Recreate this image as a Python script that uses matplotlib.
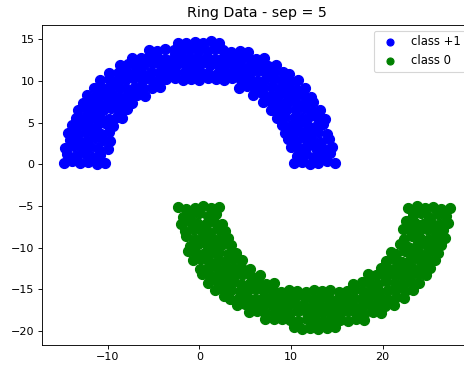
import matplotlib
matplotlib.use("Agg")
import matplotlib.pyplot as plt

title = "Ring Data - sep = 5"
labels = ["class +1", "class 0"]
colors = ["blue", "green"]

# class +1 (upper ring) points
pos_x = [
    -14.8, -13.9, -13.0, -12.1, -11.2, -10.3, 10.3, 11.2, 12.1, 13.0, 13.9, 14.8,
    -14.4, -13.5, -12.6, -11.7, -10.8, 10.7, 11.6, 12.5, 13.4, 14.3,
    -14.6, -13.7, -12.8, -11.9, -11.0, -10.0, 10.0, 10.9, 11.8, 12.7, 13.6, 14.5,
    -14.1, -13.2, -12.3, -11.4, -10.5, -9.7, 9.7, 10.5, 11.4, 12.3, 13.2, 14.1,
    -14.3, -13.4, -12.5, -11.6, -10.7, -9.8, 9.4, 10.3, 11.2, 12.1, 13.0, 13.9,
    -13.9, -13.0, -12.1, -11.2, -10.3, -9.4, 9.0, 9.9, 10.8, 11.7, 12.6, 13.5,
    -13.5, -12.6, -11.7, -10.8, -9.9, -9.0, -8.4, 8.5, 9.4, 10.3, 11.2, 12.1, 13.0, 13.7,
    -13.2, -12.3, -11.4, -10.5, -9.6, -8.7, -7.9, 7.8, 8.7, 9.6, 10.5, 11.4, 12.3, 13.2,
    -12.7, -11.8, -10.9, -10.0, -9.1, -8.2, -7.3, 7.0, 7.9, 8.8, 9.7, 10.6, 11.5, 12.4,
    -12.2, -11.3, -10.4, -9.5, -8.6, -7.7, -6.8, -5.9, 5.9, 6.8, 7.7, 8.6, 9.5, 10.4, 11.3, 12.2,
    -11.5, -10.6, -9.7, -8.8, -7.9, -7.0, -6.1, -5.2, -4.3, 4.3, 5.2, 6.1, 7.0, 7.9, 8.8, 9.7, 10.6, 11.5,
    -10.8, -9.9, -9.0, -8.1, -7.2, -6.3, -5.4, -4.5, -3.6, -2.7, -1.8, -0.9, 0.0,
    0.9, 1.8, 2.7, 3.6, 4.5, 5.4, 6.3, 7.2, 8.1, 9.0, 9.9, 10.8,
    -9.8, -8.9, -8.0, -7.1, -6.2, -5.3, -4.4, -3.5, -2.6, -1.7, -0.8, 0.1,
    1.0, 1.9, 2.8, 3.7, 4.6, 5.5, 6.4, 7.3, 8.2, 9.1, 9.8,
    -8.7, -7.8, -6.9, -6.0, -5.1, -4.2, -3.3, -2.4, -1.5, -0.6,
    0.3, 1.2, 2.1, 3.0, 3.9, 4.8, 5.7, 6.6, 7.5, 8.4,
    -7.3, -6.4, -5.5, -4.6, -3.7, -2.8, -1.9, -1.0, -0.1, 0.8, 1.7, 2.6, 3.5, 4.4, 5.3, 6.2, 7.1,
    -5.5, -4.6, -3.7, -2.8, -1.9, -1.0, -0.1, 0.8, 1.7, 2.6, 3.5, 4.4, 5.3,
    -2.3, -1.4, -0.5, 0.4, 1.3, 2.2,
]
pos_y = [
    0.2, 0.4, 0.1, 0.3, 0.0, 0.2, 0.1, 0.3, 0.0, 0.2, 0.4, 0.1,
    1.2, 1.0, 1.3, 0.9, 1.1, 1.0, 1.2, 0.9, 1.1, 1.3,
    2.0, 2.2, 1.9, 2.1, 2.0, 1.8, 2.1, 1.9, 2.2, 2.0, 1.8, 2.1,
    2.9, 3.0, 2.8, 3.1, 2.9, 2.8, 3.0, 2.8, 3.1, 2.9, 2.7, 3.0,
    3.8, 3.7, 3.9, 3.8, 3.6, 3.9, 3.8, 3.9, 3.7, 3.8, 3.9, 3.6,
    4.7, 4.8, 4.6, 4.7, 4.9, 4.6, 4.7, 4.6, 4.8, 4.7, 4.5, 4.8,
    5.6, 5.5, 5.7, 5.6, 5.4, 5.7, 5.5, 5.6, 5.7, 5.5, 5.6, 5.8, 5.5, 5.4,
    6.5, 6.6, 6.4, 6.5, 6.7, 6.4, 6.6, 6.5, 6.4, 6.6, 6.5, 6.7, 6.4, 6.5,
    7.4, 7.3, 7.5, 7.4, 7.2, 7.5, 7.4, 7.5, 7.3, 7.4, 7.6, 7.3, 7.4, 7.5,
    8.3, 8.2, 8.4, 8.3, 8.1, 8.4, 8.3, 8.2, 8.3, 8.5, 8.2, 8.3, 8.4, 8.2, 8.3, 8.1,
    9.2, 9.1, 9.3, 9.2, 9.0, 9.3, 9.2, 9.1, 9.3, 9.2, 9.4, 9.1, 9.2, 9.3, 9.1, 9.2, 9.0, 9.2,
    10.1, 10.2, 10.0, 10.1, 10.3, 10.1, 10.2, 10.0, 10.2, 10.3, 10.1, 10.2, 10.1,
    10.3, 10.2, 10.1, 10.3, 10.1, 10.2, 10.0, 10.1, 10.2, 10.1, 10.0, 10.1,
    11.0, 10.9, 11.1, 11.0, 10.8, 11.1, 11.0, 10.9, 11.2, 11.0, 10.9, 11.1,
    11.0, 10.8, 11.0, 11.1, 10.9, 11.0, 11.2, 10.9, 11.0, 11.1, 10.8,
    11.9, 12.0, 11.8, 11.9, 12.1, 11.8, 11.9, 12.0, 11.8, 11.9,
    12.1, 11.9, 11.8, 12.0, 11.9, 11.7, 12.0, 11.9, 11.8, 11.9,
    12.8, 12.7, 12.9, 12.8, 12.6, 12.9, 12.8, 12.7, 12.9, 12.8, 12.6, 12.8, 12.9, 12.7, 12.8, 12.6, 12.7,
    13.7, 13.6, 13.8, 13.7, 13.5, 13.8, 13.7, 13.6, 13.8, 13.7, 13.5, 13.6, 13.5,
    14.5, 14.6, 14.7, 14.6, 14.8, 14.5,
]

# class 0 (lower ring) points
neg_x = [
    27.3, 26.4, 25.5, 24.6, 23.7, 22.8, 2.2, 1.3, 0.4, -0.5, -1.4, -2.3,
    26.9, 26.0, 25.1, 24.2, 23.3, 1.8, 0.9, 0.0, -0.9, -1.8,
    27.1, 26.2, 25.3, 24.4, 23.5, 22.5, 2.5, 1.6, 0.7, -0.2, -1.1, -2.0,
    26.6, 25.7, 24.8, 23.9, 23.0, 22.2, 2.8, 2.0, 1.1, 0.2, -0.7, -1.6,
    26.8, 25.9, 25.0, 24.1, 23.2, 22.3, 3.1, 2.2, 1.3, 0.4, -0.5, -1.4,
    26.4, 25.5, 24.6, 23.7, 22.8, 21.9, 3.5, 2.6, 1.7, 0.8, -0.1, -1.0,
    26.0, 25.1, 24.2, 23.3, 22.4, 21.5, 20.9, 4.0, 3.1, 2.2, 1.3, 0.4, -0.5, -1.2,
    25.7, 24.8, 23.9, 23.0, 22.1, 21.2, 20.4, 4.7, 3.8, 2.9, 2.0, 1.1, 0.2, -0.7,
    25.2, 24.3, 23.4, 22.5, 21.6, 20.7, 19.8, 5.5, 4.6, 3.7, 2.8, 1.9, 1.0, 0.1,
    24.7, 23.8, 22.9, 22.0, 21.1, 20.2, 19.3, 18.4, 6.6, 5.7, 4.8, 3.9, 3.0, 2.1, 1.2, 0.3,
    24.0, 23.1, 22.2, 21.3, 20.4, 19.5, 18.6, 17.7, 16.8, 8.2, 7.3, 6.4, 5.5, 4.6, 3.7, 2.8, 1.9, 1.0,
    23.3, 22.4, 21.5, 20.6, 19.7, 18.8, 17.9, 17.0, 16.1, 15.2, 14.3, 13.4, 12.5,
    11.6, 10.7, 9.8, 8.9, 8.0, 7.1, 6.2, 5.3, 4.4, 3.5, 2.6, 1.7,
    22.3, 21.4, 20.5, 19.6, 18.7, 17.8, 16.9, 16.0, 15.1, 14.2, 13.3, 12.4,
    11.5, 10.6, 9.7, 8.8, 7.9, 7.0, 6.1, 5.2, 4.3, 3.4, 2.7,
    21.2, 20.3, 19.4, 18.5, 17.6, 16.7, 15.8, 14.9, 14.0, 13.1,
    12.2, 11.3, 10.4, 9.5, 8.6, 7.7, 6.8, 5.9, 5.0, 4.1,
    19.8, 18.9, 18.0, 17.1, 16.2, 15.3, 14.4, 13.5, 12.6, 11.7, 10.8, 9.9, 9.0, 8.1, 7.2, 6.3, 5.4,
    18.0, 17.1, 16.2, 15.3, 14.4, 13.5, 12.6, 11.7, 10.8, 9.9, 9.0, 8.1, 7.2,
    14.8, 13.9, 13.0, 12.1, 11.2, 10.3,
]
neg_y = [
    -5.2, -5.4, -5.1, -5.3, -5.0, -5.2, -5.1, -5.3, -5.0, -5.2, -5.4, -5.1,
    -6.2, -6.0, -6.3, -5.9, -6.1, -6.0, -6.2, -5.9, -6.1, -6.3,
    -7.0, -7.2, -6.9, -7.1, -7.0, -6.8, -7.1, -6.9, -7.2, -7.0, -6.8, -7.1,
    -7.9, -8.0, -7.8, -8.1, -7.9, -7.8, -8.0, -7.8, -8.1, -7.9, -7.7, -8.0,
    -8.8, -8.7, -8.9, -8.8, -8.6, -8.9, -8.8, -8.9, -8.7, -8.8, -8.9, -8.6,
    -9.7, -9.8, -9.6, -9.7, -9.9, -9.6, -9.7, -9.6, -9.8, -9.7, -9.5, -9.8,
    -10.6, -10.5, -10.7, -10.6, -10.4, -10.7, -10.5, -10.6, -10.7, -10.5, -10.6, -10.8, -10.5, -10.4,
    -11.5, -11.6, -11.4, -11.5, -11.7, -11.4, -11.6, -11.5, -11.4, -11.6, -11.5, -11.7, -11.4, -11.5,
    -12.4, -12.3, -12.5, -12.4, -12.2, -12.5, -12.4, -12.5, -12.3, -12.4, -12.6, -12.3, -12.4, -12.5,
    -13.3, -13.2, -13.4, -13.3, -13.1, -13.4, -13.3, -13.2, -13.3, -13.5, -13.2, -13.3, -13.4, -13.2, -13.3, -13.1,
    -14.2, -14.1, -14.3, -14.2, -14.0, -14.3, -14.2, -14.1, -14.3, -14.2, -14.4, -14.1, -14.2, -14.3, -14.1, -14.2, -14.0, -14.2,
    -15.1, -15.2, -15.0, -15.1, -15.3, -15.1, -15.2, -15.0, -15.2, -15.3, -15.1, -15.2, -15.1,
    -15.3, -15.2, -15.1, -15.3, -15.1, -15.2, -15.0, -15.1, -15.2, -15.1, -15.0, -15.1,
    -16.0, -15.9, -16.1, -16.0, -15.8, -16.1, -16.0, -15.9, -16.2, -16.0, -15.9, -16.1,
    -16.0, -15.8, -16.0, -16.1, -15.9, -16.0, -16.2, -15.9, -16.0, -16.1, -15.8,
    -16.9, -17.0, -16.8, -16.9, -17.1, -16.8, -16.9, -17.0, -16.8, -16.9,
    -17.1, -16.9, -16.8, -17.0, -16.9, -16.7, -17.0, -16.9, -16.8, -16.9,
    -17.8, -17.7, -17.9, -17.8, -17.6, -17.9, -17.8, -17.7, -17.9, -17.8, -17.6, -17.8, -17.9, -17.7, -17.8, -17.6, -17.7,
    -18.7, -18.6, -18.8, -18.7, -18.5, -18.8, -18.7, -18.6, -18.8, -18.7, -18.5, -18.6, -18.5,
    -19.5, -19.6, -19.7, -19.6, -19.8, -19.5,
]

xlim = (-17.12, 29.7)
ylim = (-21.63, 16.70)

DPI = 80
fig = plt.figure(figsize=(464 / DPI, 368 / DPI), dpi=DPI)
ax = fig.add_axes([0.0912, 0.0633, 0.9252, 0.8688])

ax.scatter(pos_x, pos_y, c=colors[0], s=82, label=labels[0])
ax.scatter(neg_x, neg_y, c=colors[1], s=82, label=labels[1])

ax.set_xlim(*xlim)
ax.set_ylim(*ylim)
ax.set_xticks([-10, 0, 10, 20])
ax.set_yticks([-20, -15, -10, -5, 0, 5, 10, 15])
ax.set_title(title, fontsize=12.8, pad=7)
ax.legend(loc="upper right", markerscale=0.7, fontsize=10.5)

fig.savefig("out.png", dpi=DPI)
